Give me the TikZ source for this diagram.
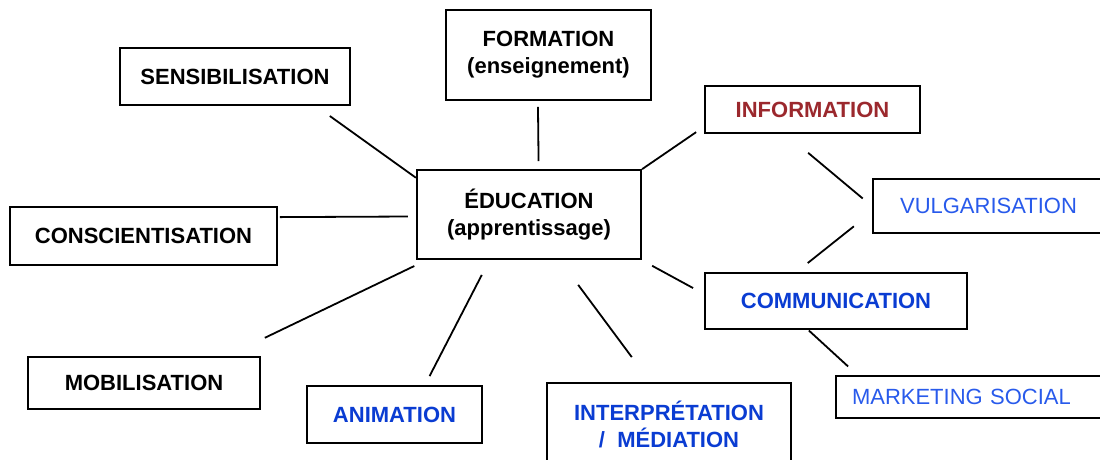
\documentclass[tikz,border=0pt]{standalone}
\usepackage{fontspec}
\setmainfont{Liberation Sans}
\usepackage{xcolor}
\definecolor{infored}{RGB}{155,40,45}
\definecolor{darkblue}{RGB}{10,60,210}
\definecolor{midblue}{RGB}{40,90,235}

\begin{document}
\begin{tikzpicture}[x=1pt,y=-1pt]
    \tikzstyle{box} = [rectangle, draw, line width=1.7pt, inner sep=0pt,
               align=center,
               font=\fontsize{22}{27}\selectfont\bfseries]
    \tikzstyle{link} = [draw, line width=1.8pt]

    \useasboundingbox (0,0) rectangle (1100,460);

    % Define boxes
    \node [box, minimum width=224.5pt, minimum height=89pt] (edu) at (529,214.5) {ÉDUCATION\\(apprentissage)};
    \node [box, minimum width=229.5pt, minimum height=57pt] (sens) at (235,76.5) {SENSIBILISATION};
    \node [box, minimum width=205pt, minimum height=90pt] (form) at (548.5,55) {FORMATION\\(enseignement)};
    \node [box, minimum width=267pt, minimum height=58pt] (consc) at (143.5,236) {CONSCIENTISATION};
    \node [box, minimum width=232pt, minimum height=52pt] (mob) at (144,383) {MOBILISATION};
    \node [box, minimum width=175pt, minimum height=57pt, text=darkblue] (anim) at (394.5,414.5) {ANIMATION};
    \node [box, minimum width=244pt, minimum height=82pt, text=darkblue] (interp) at (669,424) {INTERPRÉTATION\\/~~MÉDIATION};
    \node [box, minimum width=215pt, minimum height=47pt, text=infored] (info) at (812.5,109.5) {INFORMATION};
    \node [box, minimum width=231pt, minimum height=54pt, line width=2.6pt, text=midblue,
           font=\fontsize{22}{27}\selectfont] (vulg) at (988.5,206) {VULGARISATION};
    \node [box, minimum width=262pt, minimum height=56pt, text=darkblue] (comm) at (836,301) {COMMUNICATION};
    \node [box, text width=236pt, inner xsep=16pt, minimum height=42pt, align=left, text=midblue,
           font=\fontsize{22}{26}\selectfont] (mark) at (970,397) {MARKETING SOCIAL};

    % Draw links around the centre box
    \draw [link, shorten <=17.4pt] (sens.-20.35) -- (edu.162.4);
    \draw [link, shorten <=6pt, shorten >=8pt] (form.-103.1) -- (edu.78.6);
    \draw [link, shorten >=9.7pt] (edu.north east) -- (info.189.5);
    \draw [link, shorten <=2pt, shorten >=8pt] (consc.8.1) -- (edu.181.3);
    \draw [link, shorten <=42.4pt, shorten >=14.2pt] (mob.18.3) -- (edu.204.6);
    \draw [link, shorten <=10.2pt, shorten >=17pt] (anim.44.8) -- (edu.229.5);
    \draw [link, shorten <=31.2pt, shorten >=31.2pt] (edu.-56.6) -- (interp.114.2);
    \draw [link, shorten <=12.4pt, shorten >=12.6pt] (edu.-22.2) -- (comm.177.9);

    % Draw links on the right side
    \draw [link, shorten <=29.6pt, shorten >=11.7pt] (info.-138.1) -- (vulg.west);
    \draw [link, shorten <=22.8pt, shorten >=14.6pt] (vulg.183.9) -- (comm.144);
    \draw [link, shorten <=1pt, shorten >=12.9pt] (comm.-134) -- (mark.169.5);

\end{tikzpicture}
\end{document}
